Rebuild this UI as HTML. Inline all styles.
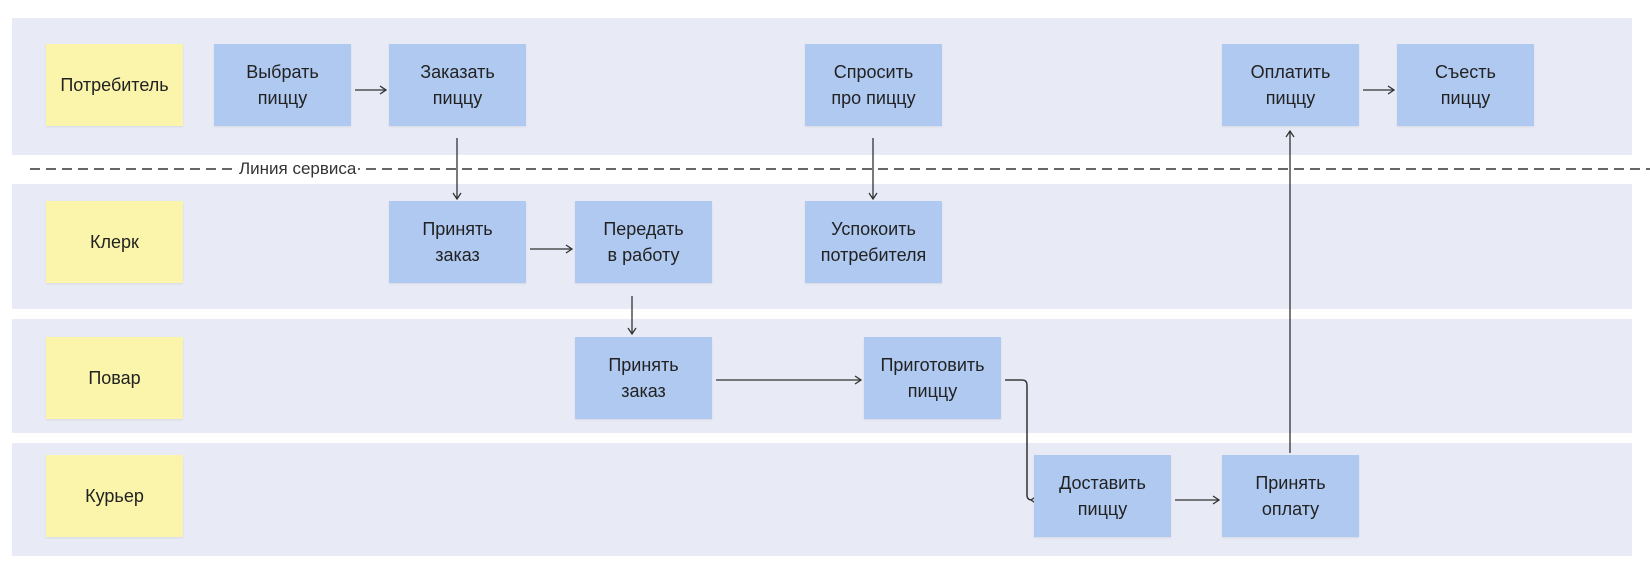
<!DOCTYPE html>
<html><head><meta charset="utf-8"><style>
body{margin:0;width:1650px;height:574px;background:#fff;position:relative;overflow:hidden;font-family:"Liberation Sans","DejaVu Sans",sans-serif;}
.lane{position:absolute;left:12px;width:1620px;background:#e8eaf5;}
.b{position:absolute;width:137px;height:82px;display:flex;align-items:center;justify-content:center;text-align:center;font-size:18px;line-height:26px;color:#222;box-shadow:0 1px 2px rgba(0,0,0,0.08);}
.y{background:#fbf5ab;}
.u{background:#afc9f1;}
svg{position:absolute;left:0;top:0;}
.lbl{position:absolute;left:237px;top:157px;background:#fff;font-size:17px;color:#333;padding:0 2px;line-height:24px;}
</style></head><body>
<div class="lane" style="top:18px;height:137px"></div>
<div class="lane" style="top:184px;height:125px"></div>
<div class="lane" style="top:319px;height:114px"></div>
<div class="lane" style="top:443px;height:113px"></div>
<svg width="1650" height="574">
<defs><marker id="a" markerWidth="10" markerHeight="10" refX="8" refY="5" orient="auto" markerUnits="userSpaceOnUse"><path d="M2,1 L8,5 L2,9" fill="none" stroke="#333" stroke-width="1.3"/></marker></defs>
<line x1="30" y1="169" x2="1650" y2="169" stroke="#333" stroke-width="1.5" stroke-dasharray="10,6"/>
<g stroke="#333" stroke-width="1.3" fill="none" marker-end="url(#a)">
<line x1="355" y1="90" x2="386" y2="90"/>
<line x1="457" y1="138" x2="457" y2="199"/>
<line x1="530" y1="249" x2="572" y2="249"/>
<line x1="632" y1="296" x2="632" y2="334"/>
<line x1="873" y1="138" x2="873" y2="199"/>
<line x1="716" y1="380" x2="861" y2="380"/>
<path d="M1005,380 H1022 Q1027,380 1027,385 V495 Q1027,500 1032,500 H1031"/>
<line x1="1175" y1="500" x2="1219" y2="500"/>
<line x1="1290" y1="453" x2="1290" y2="131"/>
<line x1="1363" y1="90" x2="1394" y2="90"/>
</g>
<path d="M1005,380 H1022 Q1027,380 1027,385 V495 Q1027,500 1032,500" stroke="#333" stroke-width="1.3" fill="none"/>
</svg>
<div class="lbl">Линия сервиса</div>
<div class="b y" style="left:46px;top:44px">Потребитель</div>
<div class="b y" style="left:46px;top:201px">Клерк</div>
<div class="b y" style="left:46px;top:337px">Повар</div>
<div class="b y" style="left:46px;top:455px">Курьер</div>
<div class="b u" style="left:214px;top:44px">Выбрать<br>пиццу</div>
<div class="b u" style="left:389px;top:44px">Заказать<br>пиццу</div>
<div class="b u" style="left:805px;top:44px">Спросить<br>про пиццу</div>
<div class="b u" style="left:1222px;top:44px">Оплатить<br>пиццу</div>
<div class="b u" style="left:1397px;top:44px">Съесть<br>пиццу</div>
<div class="b u" style="left:389px;top:201px">Принять<br>заказ</div>
<div class="b u" style="left:575px;top:201px">Передать<br>в работу</div>
<div class="b u" style="left:805px;top:201px">Успокоить<br>потребителя</div>
<div class="b u" style="left:575px;top:337px">Принять<br>заказ</div>
<div class="b u" style="left:864px;top:337px">Приготовить<br>пиццу</div>
<div class="b u" style="left:1034px;top:455px">Доставить<br>пиццу</div>
<div class="b u" style="left:1222px;top:455px">Принять<br>оплату</div>
</body></html>
